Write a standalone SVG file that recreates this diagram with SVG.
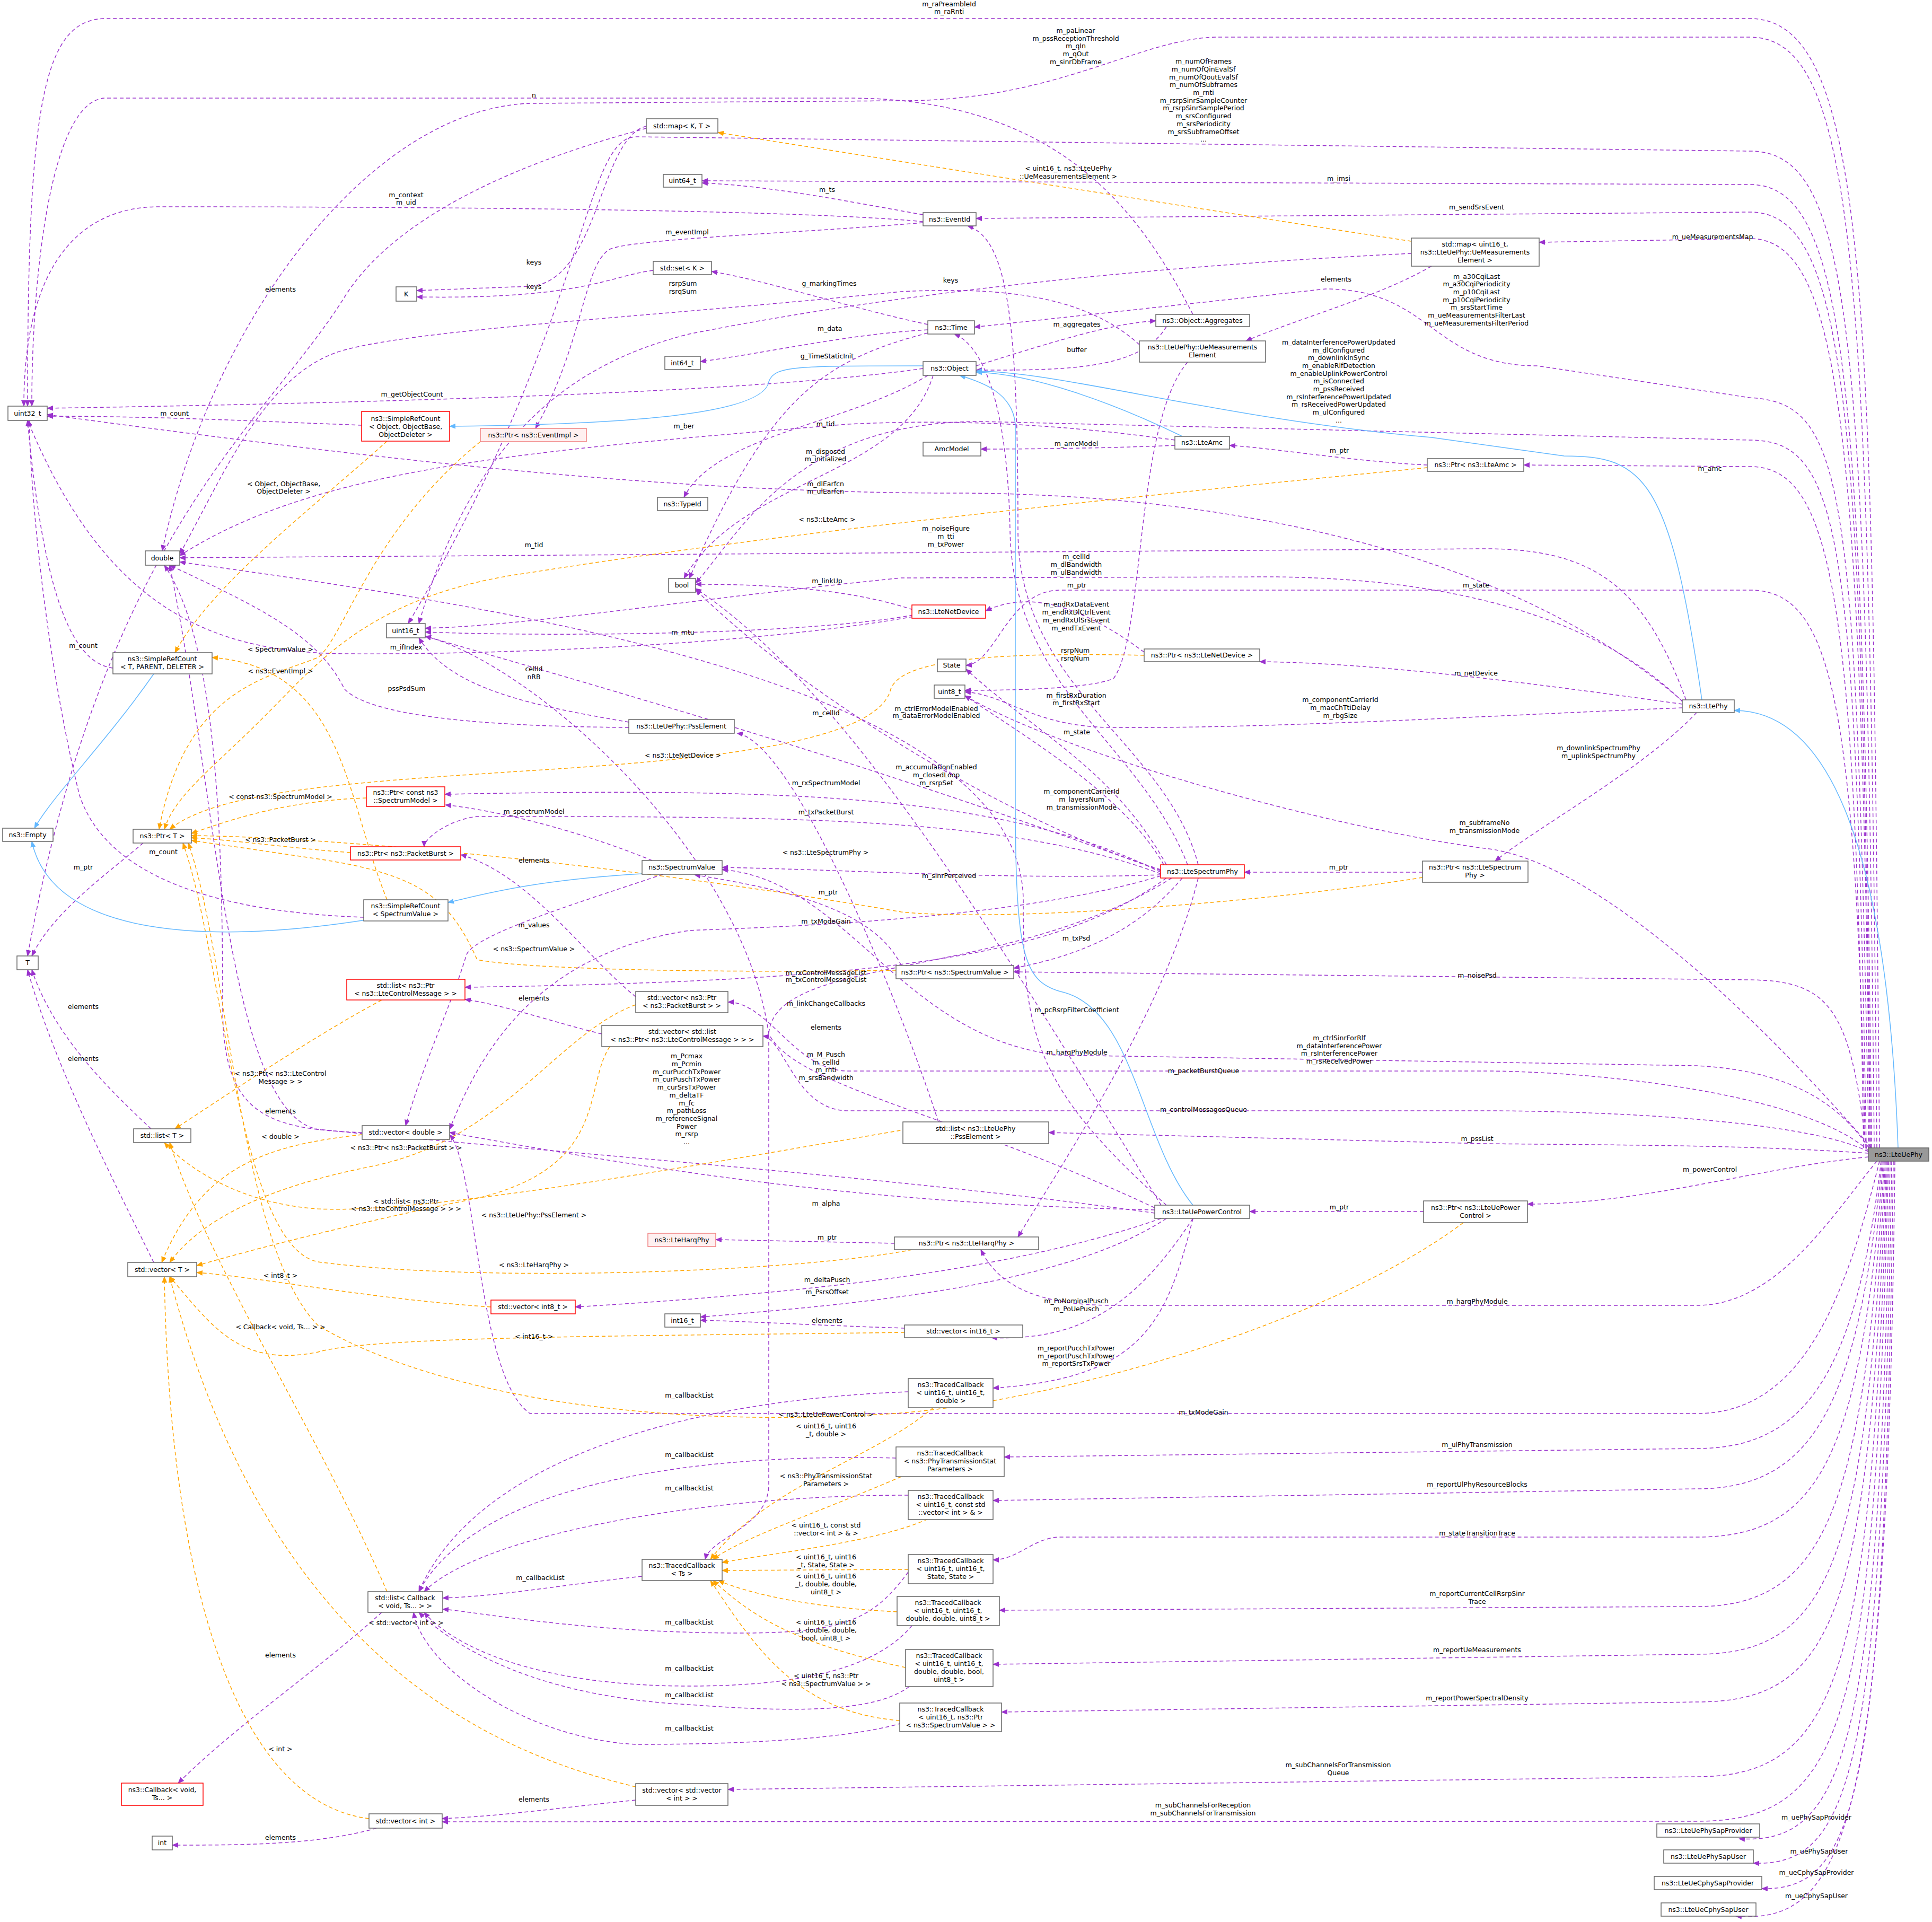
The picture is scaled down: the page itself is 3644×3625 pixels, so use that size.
<svg xmlns="http://www.w3.org/2000/svg" width="3644" height="3625" viewBox="0 0 3644 3625">
<style>
text{font-family:"DejaVu Sans","Liberation Sans",sans-serif;font-size:12.5px;fill:#000}
.n text{text-anchor:middle}
.l text{text-anchor:middle}
rect{fill:#fff;stroke:#666;stroke-width:1.5}
.r rect{stroke:#f00}
.p rect{fill:#fff0f0;stroke:#f08080}
.m rect{fill:#999;stroke:#666}
.e path{fill:none;stroke:#9a32cd;stroke-width:1.5;stroke-dasharray:7,5;marker-end:url(#mp)}
.o path{fill:none;stroke:#ffa500;stroke-width:1.5;stroke-dasharray:7,5;marker-end:url(#mo)}
.b path{fill:none;stroke:#63b8ff;stroke-width:1.5;marker-end:url(#mb)}
</style>
<defs>
<marker id="mp" markerWidth="12" markerHeight="10" refX="11" refY="5" orient="auto" markerUnits="userSpaceOnUse"><path d="M0,0 L12,5 L0,10 z" fill="#9a32cd"/></marker>
<marker id="mo" markerWidth="12" markerHeight="10" refX="11" refY="5" orient="auto" markerUnits="userSpaceOnUse"><path d="M0,0 L12,5 L0,10 z" fill="#ffa500"/></marker>
<marker id="mb" markerWidth="12" markerHeight="10" refX="11" refY="5" orient="auto" markerUnits="userSpaceOnUse"><path d="M0,0 L12,5 L0,10 z" fill="#63b8ff"/></marker>
</defs>
<rect x="0" y="0" width="3644" height="3625" style="fill:#fff;stroke:none"/>
<g id="connectors">
<g class="e">
<path d="M3545,2165 C3530,600 3530,35 3300,35 L200,35 C80,35 52,200 52,766"/>
<path d="M3540,2165 C3525,500 3500,70 3300,70 L2300,70 C2150,70 2000,190 1700,190 L1000,195 C700,205 400,600 306,1039"/>
<path d="M3535,2165 C3520,600 3490,285 3300,285 L1200,258 C1100,258 1110,600 770,1176"/>
<path d="M3530,2165 C3515,700 3480,348 3300,348 L1324,341"/>
<path d="M3528,2165 C3512,750 3480,400 3300,400 L1841,412"/>
<path d="M3527,2165 C3510,800 3470,450 3300,450 L2903,457"/>
<path d="M3525,2165 C3500,900 3480,760 3300,750 L2900,690 C2700,690 2700,545 2500,545 L1838,617"/>
<path d="M3520,2165 C3500,1000 3470,830 3300,830 L1850,795 C1500,795 1400,1000 1312,1100"/>
<path d="M3515,2165 C3500,1100 3450,880 3300,880 L2874,877"/>
<path d="M3518,2165 C3500,1300 3450,1113 3300,1113 L2000,1113 C1900,1113 1880,1250 1822,1255"/>
<path d="M3520,2165 C3490,1900 3450,1850 3300,1848 L1912,1833"/>
<path d="M3525,2165 C3480,2100 3400,2020 3200,2010 L2000,1990 C1700,1960 1600,1660 1362,1640"/>
<path d="M3524,2170 C3400,2060 3000,2020 2800,2020 L1600,2020 C1500,2020 1450,1890 1373,1890"/>
<path d="M3524,2172 C3400,2110 3000,2095 2800,2095 L1600,2095 C1500,2095 1480,1960 1439,1954"/>
<path d="M3524,2175 C3300,2160 3100,2160 2800,2157 L1978,2136"/>
<path d="M3524,2182 C3300,2205 3100,2271 2881,2271"/>
<path d="M3540,2190 C3450,2300 3350,2462 3200,2462 L2100,2462 C1950,2462 1880,2420 1850,2357"/>
<path d="M3545,2190 C3480,2450 3400,2666 3200,2666 L1000,2666 C900,2600 900,2200 848,2140"/>
<path d="M3548,2190 C3500,2600 3400,2732 3200,2732 L1894,2748"/>
<path d="M3550,2190 C3505,2650 3420,2808 3200,2808 L1873,2830"/>
<path d="M3552,2190 C3510,2750 3430,2899 3200,2899 L2000,2899 C1950,2899 1920,2942 1873,2942"/>
<path d="M3554,2190 C3515,2850 3440,3030 3200,3030 L1885,3037"/>
<path d="M3556,2190 C3520,2950 3450,3120 3200,3120 L1873,3139"/>
<path d="M3558,2190 C3525,3050 3460,3210 3200,3210 L1889,3229"/>
<path d="M3560,2190 C3530,3150 3470,3351 3200,3351 L1373,3375"/>
<path d="M3562,2190 C3535,3250 3480,3435 3200,3435 L834,3436"/>
<path d="M3565,2190 C3545,3300 3480,3480 3280,3468"/>
<path d="M3568,2190 C3550,3350 3490,3520 3307,3514"/>
<path d="M3571,2190 C3555,3400 3500,3565 3323,3562"/>
<path d="M3574,2190 C3560,3450 3480,3630 3274,3614"/>
<path d="M3530,2165 C3300,1900 3000,1620 2800,1600 C2500,1560 2000,1420 1820,1312"/>
<path d="M3180,1320 C3100,1100 3000,1035 2800,1035 L339,1052"/>
<path d="M3175,1325 C3000,1150 2700,1090 2400,1088 L1700,1090 C1300,1130 1000,1180 802,1185"/>
<path d="M3173,1328 C2900,1290 2600,1250 2376,1248"/>
<path d="M3173,1335 C2900,1345 2400,1375 2100,1372 C1950,1372 1900,1310 1820,1305"/>
<path d="M3200,1344 C3100,1450 2900,1560 2820,1624"/>
<path d="M3173,1322 C2800,1000 2200,930 1800,930 C1200,930 600,850 89,782"/>
<path d="M1741,695 C1500,730 1000,755 89,770"/>
<path d="M1760,708 C1700,900 1400,900 1290,1091"/>
<path d="M1750,708 C1600,800 1350,820 1290,938"/>
<path d="M1841,690 C2000,640 2100,610 2180,605"/>
<path d="M2200,616 C2150,700 2000,698 1841,698"/>
<path d="M2250,593 C2150,400 2000,185 1600,185 L200,185 C100,185 60,500 60,766"/>
<path d="M1750,612 C1600,580 1450,530 1342,512"/>
<path d="M1750,622 C1600,630 1450,665 1321,682"/>
<path d="M1750,628 C1550,680 1450,750 1300,1091"/>
<path d="M1741,405 C1600,380 1450,350 1324,345"/>
<path d="M1741,418 C1500,395 800,390 300,390 C150,390 45,500 45,766"/>
<path d="M1741,420 C1500,440 1200,450 1150,470 C1100,500 1100,650 1010,808"/>
<path d="M1219,238 C1130,260 1130,530 1000,540 L786,548"/>
<path d="M1219,242 C1000,300 750,400 650,560 C500,800 200,1000 52,1803"/>
<path d="M1232,510 C1150,520 1100,565 786,560"/>
<path d="M2700,502 C2600,560 2450,600 2350,643"/>
<path d="M2662,478 C2200,500 1700,550 1300,630 C1100,680 900,800 790,1176"/>
<path d="M2149,650 C2050,560 1900,540 1700,550 C1200,600 800,620 650,660 C500,700 420,900 339,1045"/>
<path d="M2240,683 C2140,800 2160,1200 2100,1280 C2050,1300 1900,1302 1820,1302"/>
<path d="M2216,840 C2100,845 1950,847 1850,847"/>
<path d="M2216,830 C2000,800 1800,790 1600,800 C1000,850 600,880 339,1048"/>
<path d="M2692,877 C2550,870 2400,845 2319,840"/>
<path d="M1722,1150 C1600,1110 1450,1102 1312,1102"/>
<path d="M1722,1160 C1500,1200 1000,1200 802,1192"/>
<path d="M1722,1163 C1400,1220 900,1235 650,1233 C400,1230 200,1150 52,793"/>
<path d="M2158,1230 C2050,1150 1950,1110 1859,1152"/>
<path d="M1186,1362 C1000,1330 850,1300 790,1203"/>
<path d="M1186,1372 C900,1370 700,1350 650,1300 C600,1200 500,1150 320,1066"/>
<path d="M1770,2116 C1700,1900 1500,1400 1390,1383"/>
<path d="M682,802 C500,795 300,785 89,785"/>
<path d="M213,1260 C130,1250 80,1100 52,793"/>
<path d="M686,1730 C400,1720 200,1650 150,1500 C100,1300 60,1000 55,793"/>
<path d="M1230,1623 C1100,1570 950,1530 840,1518"/>
<path d="M1250,1649 C1100,1700 900,1760 880,1800 C850,1900 800,2000 765,2123"/>
<path d="M270,1590 C200,1650 100,1720 60,1803"/>
<path d="M1700,1821 C1650,1720 1500,1680 1310,1650"/>
<path d="M2683,1645 L2347,1645"/>
<path d="M1687,2345 C1550,2342 1450,2340 1350,2338"/>
<path d="M2685,2285 L2357,2285"/>
<path d="M1135,1950 C1050,1930 950,1895 877,1885"/>
<path d="M1199,1880 C1100,1800 1000,1650 869,1612"/>
<path d="M683,2136 C500,2130 420,2100 420,1900 C420,1500 400,1200 310,1066"/>
<path d="M285,2129 C200,2050 100,1950 60,1829"/>
<path d="M290,2381 C200,2200 100,2000 52,1829"/>
<path d="M1706,2505 C1550,2500 1400,2492 1321,2490"/>
<path d="M720,3041 C600,3150 450,3250 336,3363"/>
<path d="M710,3448 C600,3480 450,3480 325,3480"/>
<path d="M1199,3395 C1050,3410 950,3425 834,3430"/>
<path d="M1211,2973 C1050,2990 950,3010 835,3014"/>
<path d="M1713,2625 C1300,2640 900,2750 790,3002"/>
<path d="M1690,2750 C1300,2740 900,2800 790,3002"/>
<path d="M1713,2820 C1300,2820 900,2900 800,3002"/>
<path d="M1713,2965 C1650,3050 1600,3080 1400,3080 C1100,3080 900,3040 835,3035"/>
<path d="M1720,3066 C1650,3150 1500,3180 1300,3180 C1000,3180 850,3100 800,3041"/>
<path d="M1715,3181 C1650,3230 1500,3230 1300,3215 C1000,3200 850,3100 790,3041"/>
<path d="M1700,3250 C1600,3280 1400,3290 1200,3290 C1000,3280 800,3150 780,3041"/>
<path d="M2250,2298 C2200,2500 2150,2600 1873,2618"/>
<path d="M2200,2273 C1950,2050 1930,1950 1930,1700 C1930,1300 1000,1150 339,1060"/>
<path d="M2178,2282 C1600,2270 1200,2200 848,2136"/>
<path d="M2190,2298 C1900,2400 1500,2440 1085,2465"/>
<path d="M2200,2298 C2000,2430 1600,2460 1321,2484"/>
<path d="M2250,2298 C2150,2450 2050,2530 1870,2523"/>
<path d="M2178,2288 C1700,2220 1000,2170 600,2130 C430,2100 410,1500 320,1066"/>
<path d="M2178,2278 C1800,2100 1500,2050 1450,1950 C1400,1600 1000,1250 802,1200"/>
<path d="M2190,2273 C1900,1800 1600,1300 1312,1110"/>
<path d="M2260,1631 C2200,1400 1920,1300 1920,1000 C1920,600 1900,450 1825,426"/>
<path d="M2200,1631 C2100,1450 1950,1380 1822,1262"/>
<path d="M2240,1631 C2150,1400 1910,1300 1905,1000 C1900,750 1850,650 1800,630"/>
<path d="M2189,1640 C1900,1550 1500,1300 1312,1112"/>
<path d="M2189,1642 C1800,1500 1500,1400 802,1200"/>
<path d="M2195,1631 C2120,1500 1950,1400 1820,1312"/>
<path d="M2189,1645 C1900,1500 1500,1485 839,1498"/>
<path d="M2189,1648 C1900,1540 1500,1540 900,1540 C850,1545 800,1580 800,1597"/>
<path d="M2189,1650 C1900,1660 1600,1640 1362,1636"/>
<path d="M2189,1652 C1900,1740 1400,1750 1300,1755 C1000,1800 900,2000 848,2130"/>
<path d="M2230,1656 C2150,1750 2050,1800 1912,1826"/>
<path d="M2200,1656 C2000,1800 1700,1850 877,1862"/>
<path d="M2210,1656 C1900,1850 1460,1800 1450,1950 L1450,2800 C1450,2880 1340,2900 1330,2941"/>
<path d="M2260,1656 C2200,1900 2000,2200 1920,2333"/>
</g>
<g class="o">
<path d="M2662,455 C2300,400 1800,320 1354,250"/>
<path d="M2692,882 C2200,930 1500,1000 1000,1080 C700,1120 600,1250 500,1350 C400,1450 330,1500 310,1564"/>
<path d="M2158,1236 C1900,1230 1700,1240 1680,1300 C1650,1420 1200,1440 900,1460 C600,1480 400,1500 320,1564"/>
<path d="M1710,2130 C1300,2200 800,2290 600,2280 C450,2270 350,2200 310,2155"/>
<path d="M730,832 C600,950 400,1100 330,1231"/>
<path d="M730,1697 C650,1500 650,1260 400,1240"/>
<path d="M906,833 C700,1000 650,1200 600,1240 C500,1280 350,1300 300,1564"/>
<path d="M691,1505 C550,1510 450,1540 361,1572"/>
<path d="M661,1608 C550,1600 450,1585 361,1580"/>
<path d="M1690,1830 C1400,1835 1000,1830 900,1810 C850,1700 800,1650 600,1620 L361,1585"/>
<path d="M2683,1655 C2400,1700 1900,1740 1700,1720 C1300,1650 700,1580 361,1576"/>
<path d="M1720,2357 C1500,2400 900,2420 600,2380 C450,2350 420,1800 345,1590"/>
<path d="M2760,2306 C2500,2500 2000,2640 1700,2665 C1200,2700 800,2620 600,2500 C450,2350 430,1800 355,1590"/>
<path d="M720,1886 C600,1950 450,2050 330,2129"/>
<path d="M1150,1974 C1100,2050 1150,2200 900,2260 C700,2300 500,2350 371,2387"/>
<path d="M1199,1895 C1050,1950 950,2150 700,2200 C500,2240 380,2300 320,2381"/>
<path d="M683,2140 C500,2160 380,2200 305,2381"/>
<path d="M926,2465 C700,2450 500,2410 371,2400"/>
<path d="M1706,2513 C1200,2520 700,2520 600,2550 C450,2580 400,2500 320,2408"/>
<path d="M730,3002 C600,2700 400,2400 320,2155"/>
<path d="M696,3430 C450,3400 320,3000 310,2408"/>
<path d="M1199,3370 C900,3300 500,3100 320,2408"/>
<path d="M1760,2655 C1650,2750 1450,2800 1340,2941"/>
<path d="M1700,2785 C1550,2850 1400,2900 1345,2941"/>
<path d="M1750,2865 C1650,2910 1450,2930 1362,2947"/>
<path d="M1713,2960 L1362,2962"/>
<path d="M1692,3040 C1500,3030 1400,3000 1355,2981"/>
<path d="M1708,3145 C1500,3100 1420,3050 1345,2981"/>
<path d="M1697,3245 C1500,3230 1420,3100 1340,2981"/>
</g>
<g class="b">
<path d="M3580,2165 C3560,1600 3450,1340 3271,1340"/>
<path d="M3210,1320 C3150,900 3100,860 2950,860 L2700,825 C2300,790 2000,700 1841,700"/>
<path d="M1741,690 C1500,690 1460,690 1450,720 C1440,780 1200,800 848,804"/>
<path d="M2230,823 C2100,760 1950,705 1841,702"/>
<path d="M2250,2273 C2150,2150 2140,1900 2000,1870 C1930,1850 1915,1800 1915,1500 L1915,800 C1910,740 1850,720 1810,708"/>
<path d="M290,1271 C200,1400 100,1500 65,1562"/>
<path d="M690,1735 C400,1780 100,1770 60,1587"/>
<path d="M1211,1648 C1000,1660 900,1690 845,1702"/>
</g>
</g>
<g class="l" id="labels">
<text x="1790" y="12">m_raPreambleId</text><text x="1790" y="26">m_raRnti</text>
<text x="2029" y="62">m_paLinear</text><text x="2029" y="77">m_pssReceptionThreshold</text><text x="2029" y="91">m_qIn</text><text x="2029" y="106">m_qOut</text><text x="2029" y="121">m_sinrDbFrame</text>
<text x="2270" y="120">m_numOfFrames</text><text x="2270" y="135">m_numOfQinEvalSf</text><text x="2270" y="150">m_numOfQoutEvalSf</text><text x="2270" y="164">m_numOfSubframes</text><text x="2270" y="179">m_rnti</text><text x="2270" y="194">m_rsrpSinrSampleCounter</text><text x="2270" y="208">m_rsrpSinrSamplePeriod</text><text x="2270" y="223">m_srsConfigured</text><text x="2270" y="238">m_srsPeriodicity</text><text x="2270" y="253">m_srsSubframeOffset</text><text x="2270" y="267">...</text>
<text x="2525" y="341">m_imsi</text>
<text x="2785" y="395">m_sendSrsEvent</text>
<text x="3230" y="451">m_ueMeasurementsMap</text>
<text x="2785" y="526">m_a30CqiLast</text><text x="2785" y="540">m_a30CqiPeriodicity</text><text x="2785" y="555">m_p10CqiLast</text><text x="2785" y="570">m_p10CqiPeriodicity</text><text x="2785" y="584">m_srsStartTime</text><text x="2785" y="599">m_ueMeasurementsFilterLast</text><text x="2785" y="614">m_ueMeasurementsFilterPeriod</text>
<text x="2525" y="650">m_dataInterferencePowerUpdated</text><text x="2525" y="665">m_dlConfigured</text><text x="2525" y="679">m_downlinkInSync</text><text x="2525" y="694">m_enableRlfDetection</text><text x="2525" y="709">m_enableUplinkPowerControl</text><text x="2525" y="723">m_isConnected</text><text x="2525" y="738">m_pssReceived</text><text x="2525" y="753">m_rsInterferencePowerUpdated</text><text x="2525" y="767">m_rsReceivedPowerUpdated</text><text x="2525" y="782">m_ulConfigured</text><text x="2525" y="797">...</text>
<text x="3225" y="888">m_amc</text>
<text x="2784" y="1108">m_state</text>
<text x="2786" y="1844">m_noisePsd</text>
<text x="2526" y="1962">m_ctrlSinrForRlf</text><text x="2526" y="1977">m_dataInterferencePower</text><text x="2526" y="1991">m_rsInterferencePower</text><text x="2526" y="2006">m_rsReceivedPower</text>
<text x="2270" y="2024">m_packetBurstQueue</text>
<text x="2270" y="2097">m_controlMessagesQueue</text>
<text x="2786" y="2152">m_pssList</text>
<text x="3225" y="2210">m_powerControl</text>
<text x="2786" y="2459">m_harqPhyModule</text>
<text x="2270" y="2668">m_txModeGain</text>
<text x="2786" y="2729">m_ulPhyTransmission</text>
<text x="2786" y="2804">m_reportUlPhyResourceBlocks</text>
<text x="2786" y="2896">m_stateTransitionTrace</text>
<text x="2786" y="3010">m_reportCurrentCellRsrpSinr</text><text x="2786" y="3025">Trace</text>
<text x="2786" y="3116">m_reportUeMeasurements</text>
<text x="2786" y="3207">m_reportPowerSpectralDensity</text>
<text x="2524" y="3333">m_subChannelsForTransmission</text><text x="2524" y="3348">Queue</text>
<text x="2269" y="3409">m_subChannelsForReception</text><text x="2269" y="3424">m_subChannelsForTransmission</text>
<text x="3426" y="3432">m_uePhySapProvider</text>
<text x="3431" y="3496">m_uePhySapUser</text>
<text x="3426" y="3536">m_ueCphySapProvider</text>
<text x="3426" y="3580">m_ueCphySapUser</text>
<text x="2800" y="1556">m_subframeNo</text><text x="2800" y="1571">m_transmissionMode</text>
<text x="1784" y="1001">m_noiseFigure</text><text x="1784" y="1016">m_tti</text><text x="1784" y="1031">m_txPower</text>
<text x="2030" y="1054">m_cellId</text><text x="2030" y="1069">m_dlBandwidth</text><text x="2030" y="1084">m_ulBandwidth</text>
<text x="2784" y="1274">m_netDevice</text>
<text x="2528" y="1324">m_componentCarrierId</text><text x="2528" y="1339">m_macChTtiDelay</text><text x="2528" y="1354">m_rbgSize</text>
<text x="3015" y="1415">m_downlinkSpectrumPhy</text><text x="3015" y="1430">m_uplinkSpectrumPhy</text>
<text x="1557" y="917">m_dlEarfcn</text><text x="1557" y="931">m_ulEarfcn</text>
<text x="777" y="748">m_getObjectCount</text>
<text x="1557" y="856">m_disposed</text><text x="1557" y="870">m_initialized</text>
<text x="1557" y="804">m_tid</text>
<text x="2031" y="616">m_aggregates</text>
<text x="2031" y="664">buffer</text>
<text x="1007" y="184">n</text>
<text x="1564" y="539">g_markingTimes</text>
<text x="1565" y="624">m_data</text>
<text x="1560" y="676">g_TimeStaticInit</text>
<text x="1560" y="362">m_ts</text>
<text x="766" y="372">m_context</text><text x="766" y="386">m_uid</text>
<text x="1296" y="442">m_eventImpl</text>
<text x="1007" y="499">keys</text>
<text x="529" y="550">elements</text>
<text x="1007" y="545">keys</text>
<text x="2015" y="322">&lt; uint16_t, ns3::LteUePhy</text><text x="2015" y="337">::UeMeasurementsElement &gt;</text>
<text x="2520" y="531">elements</text>
<text x="1793" y="533">keys</text>
<text x="1288" y="539">rsrpSum</text><text x="1288" y="554">rsrqSum</text>
<text x="2028" y="1231">rsrpNum</text><text x="2028" y="1246">rsrqNum</text>
<text x="2030" y="841">m_amcModel</text>
<text x="1290" y="808">m_ber</text>
<text x="2526" y="854">m_ptr</text>
<text x="1560" y="984">&lt; ns3::LteAmc &gt;</text>
<text x="1007" y="1032">m_tid</text>
<text x="1560" y="1100">m_linkUp</text>
<text x="1288" y="1197">m_mtu</text>
<text x="766" y="1225">m_ifIndex</text>
<text x="2031" y="1108">m_ptr</text>
<text x="1288" y="1429">&lt; ns3::LteNetDevice &gt;</text>
<text x="1007" y="1266">cellId</text><text x="1007" y="1281">nRB</text>
<text x="767" y="1303">pssPsdSum</text>
<text x="1558" y="1942">elements</text>
<text x="1007" y="2296">&lt; ns3::LteUePhy::PssElement &gt;</text>
<text x="329" y="784">m_count</text>
<text x="535" y="917">&lt; Object, ObjectBase,</text><text x="535" y="931">ObjectDeleter &gt;</text>
<text x="157" y="1222">m_count</text>
<text x="308" y="1611">m_count</text>
<text x="529" y="1229">&lt; SpectrumValue &gt;</text>
<text x="1007" y="1535">m_spectrumModel</text>
<text x="1007" y="1749">m_values</text>
<text x="157" y="1640">m_ptr</text>
<text x="529" y="1270">&lt; ns3::EventImpl &gt;</text>
<text x="529" y="1507">&lt; const ns3::SpectrumModel &gt;</text>
<text x="529" y="1588">&lt; ns3::PacketBurst &gt;</text>
<text x="1562" y="1687">m_ptr</text>
<text x="1007" y="1794">&lt; ns3::SpectrumValue &gt;</text>
<text x="2525" y="1640">m_ptr</text>
<text x="1557" y="1612">&lt; ns3::LteSpectrumPhy &gt;</text>
<text x="1560" y="2338">m_ptr</text>
<text x="1007" y="2390">&lt; ns3::LteHarqPhy &gt;</text>
<text x="2526" y="2281">m_ptr</text>
<text x="1558" y="2672">&lt; ns3::LteUePowerControl &gt;</text>
<text x="529" y="2029">&lt; ns3::Ptr&lt; ns3::LteControl</text><text x="529" y="2044">Message &gt; &gt;</text>
<text x="1007" y="1887">elements</text>
<text x="766" y="2270">&lt; std::list&lt; ns3::Ptr</text><text x="766" y="2284">&lt; ns3::LteControlMessage &gt; &gt; &gt;</text>
<text x="1007" y="1627">elements</text>
<text x="766" y="2169">&lt; ns3::Ptr&lt; ns3::PacketBurst &gt; &gt;</text>
<text x="529" y="2100">elements</text>
<text x="529" y="2148">&lt; double &gt;</text>
<text x="157" y="1903">elements</text>
<text x="157" y="2001">elements</text>
<text x="529" y="2410">&lt; int8_t &gt;</text>
<text x="1560" y="2495">elements</text>
<text x="1007" y="2525">&lt; int16_t &gt;</text>
<text x="529" y="2507">&lt; Callback&lt; void, Ts... &gt; &gt;</text>
<text x="529" y="3126">elements</text>
<text x="529" y="3303">&lt; int &gt;</text>
<text x="529" y="3470">elements</text>
<text x="1007" y="3398">elements</text>
<text x="766" y="3065">&lt; std::vector&lt; int &gt; &gt;</text>
<text x="1019" y="2980">m_callbackList</text>
<text x="1300" y="2636">m_callbackList</text>
<text x="1300" y="2748">m_callbackList</text>
<text x="1300" y="2811">m_callbackList</text>
<text x="1300" y="3064">m_callbackList</text>
<text x="1300" y="3151">m_callbackList</text>
<text x="1300" y="3201">m_callbackList</text>
<text x="1300" y="3264">m_callbackList</text>
<text x="1558" y="2694">&lt; uint16_t, uint16</text><text x="1558" y="2709">_t, double &gt;</text>
<text x="1558" y="2788">&lt; ns3::PhyTransmissionStat</text><text x="1558" y="2803">Parameters &gt;</text>
<text x="1558" y="2881">&lt; uint16_t, const std</text><text x="1558" y="2896">::vector&lt; int &gt; &amp; &gt;</text>
<text x="1558" y="2941">&lt; uint16_t, uint16</text><text x="1558" y="2956">_t, State, State &gt;</text>
<text x="1558" y="2977">&lt; uint16_t, uint16</text><text x="1558" y="2992">_t, double, double,</text><text x="1558" y="3007">uint8_t &gt;</text>
<text x="1558" y="3064">&lt; uint16_t, uint16</text><text x="1558" y="3079">_t, double, double,</text><text x="1558" y="3094">bool, uint8_t &gt;</text>
<text x="1558" y="3165">&lt; uint16_t, ns3::Ptr</text><text x="1558" y="3180">&lt; ns3::SpectrumValue &gt; &gt;</text>
<text x="2030" y="2547">m_reportPucchTxPower</text><text x="2030" y="2562">m_reportPuschTxPower</text><text x="2030" y="2576">m_reportSrsTxPower</text>
<text x="2031" y="1909">m_pcRsrpFilterCoefficient</text>
<text x="1558" y="2274">m_alpha</text>
<text x="1560" y="2418">m_deltaPusch</text>
<text x="1560" y="2441">m_PsrsOffset</text>
<text x="2030" y="2458">m_PoNominalPusch</text><text x="2030" y="2473">m_PoUePusch</text>
<text x="1295" y="1996">m_Pcmax</text><text x="1295" y="2011">m_Pcmin</text><text x="1295" y="2026">m_curPucchTxPower</text><text x="1295" y="2040">m_curPuschTxPower</text><text x="1295" y="2055">m_curSrsTxPower</text><text x="1295" y="2070">m_deltaTF</text><text x="1295" y="2085">m_fc</text><text x="1295" y="2099">m_pathLoss</text><text x="1295" y="2114">m_referenceSignal</text><text x="1295" y="2129">Power</text><text x="1295" y="2143">m_rsrp</text><text x="1295" y="2158">...</text>
<text x="1558" y="1993">m_M_Pusch</text><text x="1558" y="2008">m_cellId</text><text x="1558" y="2022">m_rnti</text><text x="1558" y="2037">m_srsBandwidth</text>
<text x="1766" y="1451">m_accumulationEnabled</text><text x="1766" y="1466">m_closedLoop</text><text x="1766" y="1481">m_rsrpSet</text>
<text x="2030" y="1144">m_endRxDataEvent</text><text x="2030" y="1159">m_endRxDlCtrlEvent</text><text x="2030" y="1174">m_endRxUlSrsEvent</text><text x="2030" y="1189">m_endTxEvent</text>
<text x="2031" y="1385">m_state</text>
<text x="2030" y="1316">m_firstRxDuration</text><text x="2030" y="1330">m_firstRxStart</text>
<text x="1766" y="1341">m_ctrlErrorModelEnabled</text><text x="1766" y="1354">m_dataErrorModelEnabled</text>
<text x="1558" y="1349">m_cellId</text>
<text x="2040" y="1497">m_componentCarrierId</text><text x="2040" y="1512">m_layersNum</text><text x="2040" y="1527">m_transmissionMode</text>
<text x="1558" y="1481">m_rxSpectrumModel</text>
<text x="1558" y="1536">m_txPacketBurst</text>
<text x="1790" y="1656">m_sinrPerceived</text>
<text x="1558" y="1742">m_txModeGain</text>
<text x="2030" y="1774">m_txPsd</text>
<text x="1558" y="1839">m_rxControlMessageList</text><text x="1558" y="1852">m_txControlMessageList</text>
<text x="1558" y="1897">m_linkChangeCallbacks</text>
<text x="2031" y="1989">m_harqPhyModule</text>
</g>
<g class="n">
<g id="uint32"><rect x="15" y="766" width="74" height="27"/><text x="52" y="784">uint32_t</text></g>
<g id="mapKT"><rect x="1219" y="224" width="135" height="27"/><text x="1286" y="242">std::map&lt; K, T &gt;</text></g>
<g id="uint64"><rect x="1251" y="329" width="73" height="24"/><text x="1287" y="345">uint64_t</text></g>
<g id="EventId"><rect x="1741" y="401" width="100" height="25"/><text x="1791" y="418">ns3::EventId</text></g>
<g id="setK"><rect x="1232" y="493" width="110" height="25"/><text x="1287" y="510">std::set&lt; K &gt;</text></g>
<g id="K"><rect x="747" y="541" width="39" height="27"/><text x="766" y="559">K</text></g>
<g id="Time"><rect x="1750" y="605" width="88" height="25"/><text x="1794" y="622">ns3::Time</text></g>
<g id="int64"><rect x="1254" y="672" width="67" height="25"/><text x="1287" y="689">int64_t</text></g>
<g id="Object"><rect x="1741" y="682" width="100" height="26"/><text x="1791" y="699">ns3::Object</text></g>
<g id="SRCObj" class="r"><rect x="682" y="776" width="166" height="56"/><text x="765" y="794">ns3::SimpleRefCount</text><text x="765" y="809">&lt; Object, ObjectBase,</text><text x="765" y="824">ObjectDeleter &gt;</text></g>
<g id="PtrEventImpl" class="p"><rect x="906" y="808" width="200" height="25"/><text x="1006" y="825">ns3::Ptr&lt; ns3::EventImpl &gt;</text></g>
<g id="AmcModel"><rect x="1741" y="834" width="109" height="26"/><text x="1795" y="851">AmcModel</text></g>
<g id="TypeId"><rect x="1240" y="938" width="95" height="25"/><text x="1287" y="955">ns3::TypeId</text></g>
<g id="double"><rect x="274" y="1039" width="65" height="27"/><text x="306" y="1057">double</text></g>
<g id="bool"><rect x="1261" y="1091" width="51" height="26"/><text x="1286" y="1108">bool</text></g>
<g id="LteNetDevice" class="r"><rect x="1720" y="1141" width="139" height="25"/><text x="1789" y="1158">ns3::LteNetDevice</text></g>
<g id="uint16"><rect x="729" y="1176" width="73" height="27"/><text x="765" y="1194">uint16_t</text></g>
<g id="SRCT"><rect x="213" y="1231" width="187" height="40"/><text x="306" y="1247">ns3::SimpleRefCount</text><text x="306" y="1262">&lt; T, PARENT, DELETER &gt;</text></g>
<g id="State"><rect x="1768" y="1243" width="54" height="24"/><text x="1795" y="1259">State</text></g>
<g id="uint8"><rect x="1762" y="1292" width="58" height="25"/><text x="1791" y="1309">uint8_t</text></g>
<g id="PssElement"><rect x="1186" y="1357" width="199" height="26"/><text x="1285" y="1374">ns3::LteUePhy::PssElement</text></g>
<g id="PtrSpecModel" class="r"><rect x="691" y="1484" width="148" height="37"/><text x="765" y="1499">ns3::Ptr&lt; const ns3</text><text x="765" y="1514">::SpectrumModel &gt;</text></g>
<g id="Empty"><rect x="5" y="1562" width="95" height="25"/><text x="52" y="1579">ns3::Empty</text></g>
<g id="PtrT"><rect x="251" y="1564" width="110" height="26"/><text x="306" y="1581">ns3::Ptr&lt; T &gt;</text></g>
<g id="PtrPB" class="r"><rect x="661" y="1597" width="208" height="25"/><text x="765" y="1614">ns3::Ptr&lt; ns3::PacketBurst &gt;</text></g>
<g id="SpecVal"><rect x="1211" y="1623" width="151" height="26"/><text x="1286" y="1640">ns3::SpectrumValue</text></g>
<g id="SRCSV"><rect x="686" y="1697" width="159" height="40"/><text x="765" y="1713">ns3::SimpleRefCount</text><text x="765" y="1728">&lt; SpectrumValue &gt;</text></g>
<g id="T"><rect x="32" y="1803" width="40" height="26"/><text x="52" y="1820">T</text></g>
<g id="UeMeasMap"><rect x="2662" y="449" width="241" height="53"/><text x="2782" y="465">std::map&lt; uint16_t,</text><text x="2782" y="480">ns3::LteUePhy::UeMeasurements</text><text x="2782" y="495">Element &gt;</text></g>
<g id="Aggregates"><rect x="2180" y="593" width="177" height="23"/><text x="2268" y="609">ns3::Object::Aggregates</text></g>
<g id="UeMeasElem"><rect x="2149" y="643" width="238" height="40"/><text x="2268" y="659">ns3::LteUePhy::UeMeasurements</text><text x="2268" y="674">Element</text></g>
<g id="LteAmc"><rect x="2216" y="823" width="103" height="24"/><text x="2267" y="839">ns3::LteAmc</text></g>
<g id="PtrLteAmc"><rect x="2692" y="865" width="182" height="24"/><text x="2783" y="881">ns3::Ptr&lt; ns3::LteAmc &gt;</text></g>
<g id="PtrLteNetDevice"><rect x="2158" y="1224" width="218" height="24"/><text x="2267" y="1240">ns3::Ptr&lt; ns3::LteNetDevice &gt;</text></g>
<g id="LtePhy"><rect x="3173" y="1320" width="98" height="24"/><text x="3222" y="1336">ns3::LtePhy</text></g>
<g id="LteSpectrumPhy" class="r"><rect x="2189" y="1631" width="158" height="25"/><text x="2268" y="1648">ns3::LteSpectrumPhy</text></g>
<g id="PtrLteSpectrumPhy"><rect x="2683" y="1624" width="199" height="40"/><text x="2782" y="1640">ns3::Ptr&lt; ns3::LteSpectrum</text><text x="2782" y="1655">Phy &gt;</text></g>
<g id="ListCtrlMsg" class="r"><rect x="654" y="1847" width="223" height="39"/><text x="765" y="1863">std::list&lt; ns3::Ptr</text><text x="765" y="1878">&lt; ns3::LteControlMessage &gt; &gt;</text></g>
<g id="VecPB"><rect x="1199" y="1870" width="174" height="40"/><text x="1286" y="1886">std::vector&lt; ns3::Ptr</text><text x="1286" y="1901">&lt; ns3::PacketBurst &gt; &gt;</text></g>
<g id="VecListCtrl"><rect x="1135" y="1934" width="304" height="40"/><text x="1287" y="1950">std::vector&lt; std::list</text><text x="1287" y="1965">&lt; ns3::Ptr&lt; ns3::LteControlMessage &gt; &gt; &gt;</text></g>
<g id="ListT"><rect x="252" y="2129" width="108" height="26"/><text x="306" y="2146">std::list&lt; T &gt;</text></g>
<g id="VecDouble"><rect x="683" y="2123" width="165" height="26"/><text x="765" y="2140">std::vector&lt; double &gt;</text></g>
<g id="ListPss"><rect x="1703" y="2116" width="275" height="41"/><text x="1840" y="2133">std::list&lt; ns3::LteUePhy</text><text x="1840" y="2148">::PssElement &gt;</text></g>
<g id="VecT"><rect x="241" y="2381" width="130" height="27"/><text x="306" y="2399">std::vector&lt; T &gt;</text></g>
<g id="LteHarqPhy" class="p"><rect x="1222" y="2326" width="128" height="25"/><text x="1286" y="2343">ns3::LteHarqPhy</text></g>
<g id="PtrHarq"><rect x="1687" y="2333" width="272" height="24"/><text x="1823" y="2349">ns3::Ptr&lt; ns3::LteHarqPhy &gt;</text></g>
<g id="VecInt8" class="r"><rect x="926" y="2452" width="159" height="26"/><text x="1005" y="2469">std::vector&lt; int8_t &gt;</text></g>
<g id="Int16"><rect x="1254" y="2478" width="67" height="25"/><text x="1287" y="2495">int16_t</text></g>
<g id="VecInt16"><rect x="1706" y="2499" width="223" height="24"/><text x="1817" y="2515">std::vector&lt; int16_t &gt;</text></g>
<g id="TCud"><rect x="1713" y="2600" width="160" height="55"/><text x="1793" y="2616">ns3::TracedCallback</text><text x="1793" y="2631">&lt; uint16_t, uint16_t,</text><text x="1793" y="2646">double &gt;</text></g>
<g id="TCPTS"><rect x="1690" y="2729" width="204" height="56"/><text x="1792" y="2745">ns3::TracedCallback</text><text x="1792" y="2760">&lt; ns3::PhyTransmissionStat</text><text x="1792" y="2775">Parameters &gt;</text></g>
<g id="TCuv"><rect x="1713" y="2811" width="160" height="55"/><text x="1793" y="2827">ns3::TracedCallback</text><text x="1793" y="2842">&lt; uint16_t, const std</text><text x="1793" y="2857">::vector&lt; int &gt; &amp; &gt;</text></g>
<g id="TCTs"><rect x="1211" y="2941" width="151" height="40"/><text x="1286" y="2957">ns3::TracedCallback</text><text x="1286" y="2972">&lt; Ts &gt;</text></g>
<g id="TCuss"><rect x="1713" y="2932" width="160" height="55"/><text x="1793" y="2948">ns3::TracedCallback</text><text x="1793" y="2963">&lt; uint16_t, uint16_t,</text><text x="1793" y="2978">State, State &gt;</text></g>
<g id="CBList"><rect x="694" y="3002" width="141" height="39"/><text x="764" y="3018">std::list&lt; Callback</text><text x="764" y="3033">&lt; void, Ts... &gt; &gt;</text></g>
<g id="TCuddu"><rect x="1692" y="3011" width="193" height="55"/><text x="1788" y="3027">ns3::TracedCallback</text><text x="1788" y="3042">&lt; uint16_t, uint16_t,</text><text x="1788" y="3057">double, double, uint8_t &gt;</text></g>
<g id="TCuddbu"><rect x="1708" y="3111" width="165" height="70"/><text x="1790" y="3127">ns3::TracedCallback</text><text x="1790" y="3142">&lt; uint16_t, uint16_t,</text><text x="1790" y="3157">double, double, bool,</text><text x="1790" y="3172">uint8_t &gt;</text></g>
<g id="TCusv"><rect x="1697" y="3212" width="192" height="54"/><text x="1793" y="3228">ns3::TracedCallback</text><text x="1793" y="3243">&lt; uint16_t, ns3::Ptr</text><text x="1793" y="3258">&lt; ns3::SpectrumValue &gt; &gt;</text></g>
<g id="Callback" class="r"><rect x="229" y="3363" width="154" height="42"/><text x="306" y="3380">ns3::Callback&lt; void,</text><text x="306" y="3395">Ts... &gt;</text></g>
<g id="VecVecInt"><rect x="1199" y="3364" width="174" height="41"/><text x="1286" y="3381">std::vector&lt; std::vector</text><text x="1286" y="3396">&lt; int &gt; &gt;</text></g>
<g id="VecInt"><rect x="696" y="3421" width="138" height="27"/><text x="765" y="3439">std::vector&lt; int &gt;</text></g>
<g id="Int"><rect x="287" y="3463" width="38" height="26"/><text x="306" y="3480">int</text></g>
<g id="PtrSV"><rect x="1690" y="1821" width="222" height="25"/><text x="1801" y="1838">ns3::Ptr&lt; ns3::SpectrumValue &gt;</text></g>
<g id="LteUePowerControl"><rect x="2178" y="2273" width="179" height="25"/><text x="2267" y="2290">ns3::LteUePowerControl</text></g>
<g id="PtrPC"><rect x="2685" y="2265" width="196" height="41"/><text x="2783" y="2282">ns3::Ptr&lt; ns3::LteUePower</text><text x="2783" y="2297">Control &gt;</text></g>
<g id="LteUePhy" class="m"><rect x="3524" y="2165" width="114" height="25"/><text x="3581" y="2182">ns3::LteUePhy</text></g>
<g id="SapProv"><rect x="3125" y="3440" width="194" height="25"/><text x="3222" y="3457">ns3::LteUePhySapProvider</text></g>
<g id="SapUser"><rect x="3138" y="3489" width="169" height="25"/><text x="3222" y="3506">ns3::LteUePhySapUser</text></g>
<g id="CSapProv"><rect x="3120" y="3539" width="203" height="25"/><text x="3221" y="3556">ns3::LteUeCphySapProvider</text></g>
<g id="CSapUser"><rect x="3133" y="3589" width="179" height="25"/><text x="3222" y="3606">ns3::LteUeCphySapUser</text></g>
</g>
</svg>
